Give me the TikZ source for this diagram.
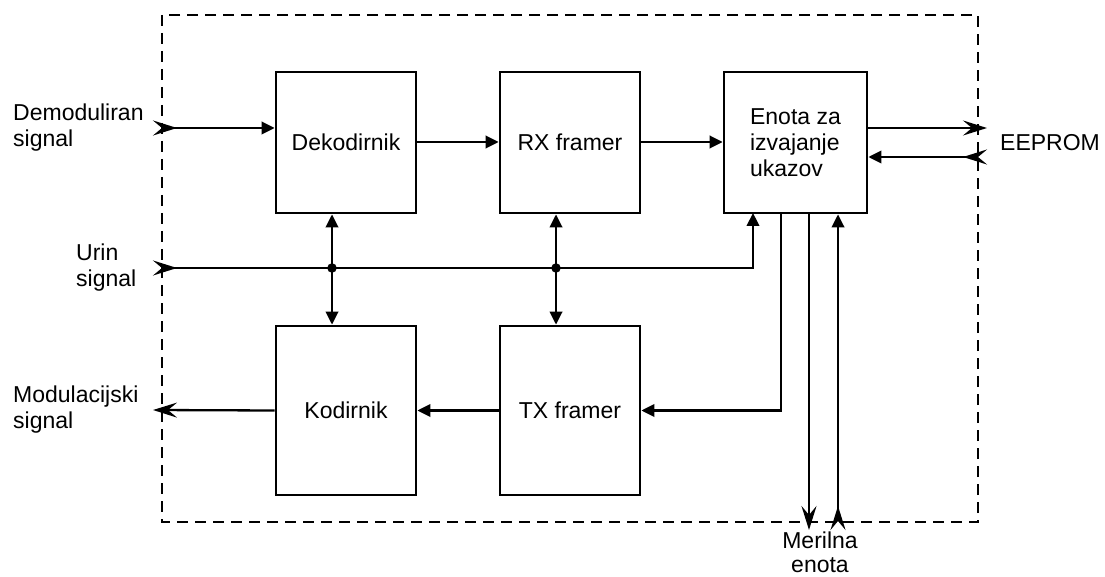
\documentclass[tikz,border=0pt]{standalone}
\usepackage{fontspec}
\setmainfont{Liberation Sans}
\usetikzlibrary{arrows.meta}
\newcommand{\lblfont}{\fontsize{23}{26}\selectfont}

\begin{document}
\begin{tikzpicture}[x=1pt,y=-1pt,
  tri/.tip={Triangle[length=13pt,width=12.5pt]},
  mk/.tip={Stealth[length=24pt,width=15pt,inset=9pt]},
  block/.style={draw,line width=2.8pt,minimum width=140pt,inner sep=0pt,font=\lblfont,align=left},
  upper/.style={block,minimum height=141pt},
  lower/.style={block,minimum height=169pt},
  conn/.style={line width=2.3pt},
  lbl/.style={font=\lblfont,align=left,inner sep=0pt},
  frame/.style={line width=2.6pt,dash pattern=on 11pt off 7pt},
  dot/.style={circle,fill,inner sep=0pt,minimum size=9.5pt}
]
\useasboundingbox (0,0) rectangle (1105,577);

% system boundary
\draw[frame] (162,15) rectangle (978,522);

% blocks
\node[upper] (dek) at (346,142.5) {Dekodirnik};
\node[upper] (rx)  at (570,142.5) {RX framer};
\node[upper,minimum width=143pt] (enota) at (795.5,142.5) {Enota za\\izvajanje\\ukazov};
\node[lower] (kod) at (346,410.5) {Kodirnik};
\node[lower] (tx)  at (570,410.5) {TX framer};

% ports on the boundary and branch points
\coordinate (dIn)  at (153,128);
\coordinate (uIn)  at (153,268);
\coordinate (mOut) at (153,410);
\coordinate (eOut) at (987,128);
\coordinate (eIn)  at (987,157);
\coordinate (uB)   at (753,213);
\coordinate (t1)   at (781,213);
\coordinate (m1)   at (809,530);
\coordinate (m2)   at (838,530);
\node[dot] (j1) at (332,268) {};
\node[dot] (j2) at (556,268) {};

% data path
\draw[conn,{mk[reversed]}-{tri}] (dIn) -- (dIn -| dek.west);
\draw[conn,-{tri}] (dek.east |- 0,142) -- (rx.west |- 0,142);
\draw[conn,-{tri}] (rx.east |- 0,142) -- (enota.west |- 0,142);
\draw[conn,-{mk}] (enota.east |- eOut) -- (eOut);
\draw[conn,{mk[reversed]}-{tri}] (eIn) -- (eIn -| enota.east);

% clock
\draw[conn,{mk[reversed]}-{tri}] (uIn) -- (uIn -| uB) -- (uB);
\draw[conn,{tri}-{tri}] (j1 |- dek.south) -- (j1 |- kod.north);
\draw[conn,{tri}-{tri}] (j2 |- rx.south) -- (j2 |- tx.north);

% transmit path
\draw[conn,-{tri}] (t1) -- (t1 |- tx.east) -- (tx.east);
\draw[conn,-{tri}] (tx.west) -- (kod.east);
\draw[conn,-{mk}] (kod.west) -- (mOut);

% measuring unit
\draw[conn,-{mk}] (m1 |- enota.south) -- (m1);
\draw[conn,{mk[reversed]}-{tri}] (m2) -- (m2 |- enota.south);

% labels
\node[lbl,anchor=west] (lDem) at (13,128) {Demoduliran\\signal};
\node[lbl,anchor=west] (lUr)  at (76,268) {Urin\\signal};
\node[lbl,anchor=west] (lMod) at (13,410) {Modulacijski\\signal};
\node[lbl,anchor=west] (lEe)  at (1000,143) {EEPROM};
\node[lbl,anchor=north,align=center,font=\fontsize{23}{24}\selectfont] (lMe) at (820,532) {Merilna\\enota};
\end{tikzpicture}
\end{document}
